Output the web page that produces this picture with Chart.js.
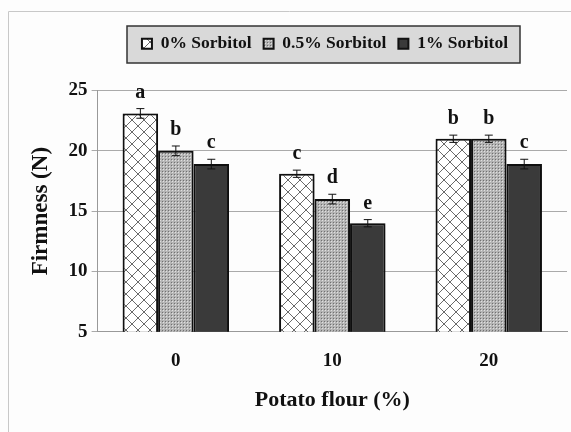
<!DOCTYPE html>
<html>
<head>
<meta charset="utf-8">
<script src="https://cdn.jsdelivr.net/npm/chart.js@4"></script>
<style>
  html, body { margin: 0; padding: 0; background: #fdfdfd; }
  #wrap { width: 571px; height: 432px; }
</style>
</head>
<body>
<div id="wrap"><canvas id="grafico" width="571" height="432"></canvas></div>
<script>
const categorias = ['0', '10', '20'];
const series = ['0% Sorbitol', '0.5% Sorbitol', '1% Sorbitol'];
const valores0 = [23.1, 18.1, 21.0];
const valores05 = [20.0, 16.0, 21.0];
const valores1 = [18.9, 14.0, 18.9];
const erros0 = [0.4, 0.3, 0.3];
const erros05 = [0.4, 0.4, 0.3];
const erros1 = [0.4, 0.3, 0.4];
const letras0 = ['a', 'c', 'b'];
const letras05 = ['b', 'd', 'b'];
const letras1 = ['c', 'e', 'c'];

const fonte = '"Liberation Serif", "Times New Roman", serif';

// padroes de preenchimento
function padraoTrelica() {
    const c = document.createElement('canvas');
    c.width = 12; c.height = 12;
    const g = c.getContext('2d');
    g.fillStyle = '#ffffff';
    g.fillRect(0, 0, 12, 12);
    g.strokeStyle = '#6a6a6a';
    g.lineWidth = 1;
    g.beginPath();
    g.moveTo(0, 0); g.lineTo(12, 12);
    g.moveTo(12, 0); g.lineTo(0, 12);
    g.stroke();
    return g.createPattern(c, 'repeat');
}
function padraoPontos() {
    const c = document.createElement('canvas');
    c.width = 3; c.height = 3;
    const g = c.getContext('2d');
    g.fillStyle = '#b4b4b4';
    g.fillRect(0, 0, 3, 3);
    g.fillStyle = '#707070';
    g.fillRect(0, 0, 1, 1);
    g.fillStyle = '#e0e0e0';
    g.fillRect(1, 1, 1, 1);
    return g.createPattern(c, 'repeat');
}

const erros = [erros0, erros05, erros1];
const letras = [letras0, letras05, letras1];

// espaco extra abaixo da legenda e deslocamento para a direita
const ajusteLegenda = {
    id: 'ajusteLegenda',
    beforeLayout(chart) {
        const lg = chart.legend;
        if (lg && !lg._ajustado) {
            const fitOrig = lg.fit.bind(lg);
            lg.fit = function () { fitOrig(); this.height += 28; };
            lg._ajustado = true;
        }
    },
    afterLayout(chart) {
        chart.legend.left += 30;
        chart.legend.right += 30;
    }
};

// moldura de fundo e caixa da legenda
const moldura = {
    id: 'moldura',
    beforeDraw(chart) {
        const ctx = chart.ctx;
        ctx.save();
        ctx.strokeStyle = '#c8c8c8';
        ctx.lineWidth = 1;
        ctx.beginPath();
        ctx.moveTo(8.5, 432); ctx.lineTo(8.5, 11.5); ctx.lineTo(571, 11.5);
        ctx.stroke();
        const left = 127, right = 520, top = 26, bottom = 63;
        ctx.fillStyle = '#d9d9d9';
        ctx.fillRect(left, top, right - left, bottom - top);
        ctx.strokeStyle = '#333333';
        ctx.lineWidth = 1.5;
        ctx.strokeRect(left, top, right - left, bottom - top);
        ctx.restore();
    }
};

// sombra nas barras
const sombra = {
    id: 'sombra',
    beforeDatasetsDraw(chart) {
        chart.ctx.save();
        chart.ctx.shadowColor = 'rgba(0,0,0,0.35)';
        chart.ctx.shadowBlur = 8;
    },
    afterDatasetsDraw(chart) {
        chart.ctx.restore();
    }
};

// barras de erro e letras
const barrasErro = {
    id: 'barrasErro',
    afterDatasetsDraw(chart) {
        const ctx = chart.ctx;
        const y = chart.scales.y;
        ctx.save();
        chart.data.datasets.forEach((ds, i) => {
            chart.getDatasetMeta(i).data.forEach((bar, j) => {
                const v = ds.data[j];
                const e = erros[i][j];
                const yTop = y.getPixelForValue(v + e);
                const yBot = y.getPixelForValue(v - e);
                ctx.strokeStyle = '#111';
                ctx.lineWidth = 1;
                ctx.beginPath();
                ctx.moveTo(bar.x, yTop); ctx.lineTo(bar.x, yBot);
                ctx.moveTo(bar.x - 4, yTop); ctx.lineTo(bar.x + 4, yTop);
                ctx.moveTo(bar.x - 4, yBot); ctx.lineTo(bar.x + 4, yBot);
                ctx.stroke();
                ctx.fillStyle = '#111';
                ctx.font = 'bold 20px ' + fonte;
                ctx.textAlign = 'center';
                ctx.textBaseline = 'bottom';
                ctx.fillText(letras[i][j], bar.x, yTop - 6);
            });
        });
        ctx.restore();
    }
};

const ctx = document.getElementById('grafico').getContext('2d');
const grafico = new Chart(ctx, {
    type: 'bar',
    data: {
        labels: categorias,
        datasets: [
            { label: series[0], data: valores0, backgroundColor: padraoTrelica(), borderColor: '#111', borderWidth: 2 },
            { label: series[1], data: valores05, backgroundColor: padraoPontos(), borderColor: '#111', borderWidth: 2 },
            { label: series[2], data: valores1, backgroundColor: '#3a3a3a', borderColor: '#111', borderWidth: 2 }
        ]
    },
    options: {
        responsive: false,
        animation: false,
        layout: { padding: { top: 23, right: 4, left: 23, bottom: 14 } },
        datasets: { bar: { barPercentage: 1, categoryPercentage: 0.68 } },
        plugins: {
            legend: {
                position: 'top',
                labels: {
                    font: { family: fonte, size: 17.5, weight: 'bold' },
                    color: '#111',
                    boxWidth: 10,
                    boxHeight: 10,
                    padding: 12
                }
            },
            tooltip: { enabled: false }
        },
        scales: {
            x: {
                grid: { display: false },
                border: { color: '#999' },
                ticks: { font: { family: fonte, size: 19, weight: 'bold' }, color: '#111', padding: 10 },
                title: {
                    display: true, text: 'Potato flour (%)',
                    font: { family: fonte, size: 22, weight: 'bold' }, color: '#111', padding: { top: 5 }
                }
            },
            y: {
                min: 5, max: 25,
                ticks: { stepSize: 5, font: { family: fonte, size: 19, weight: 'bold' }, color: '#111', padding: 4 },
                grid: { color: '#aaaaaa', tickLength: 6 },
                border: { color: '#999' },
                title: {
                    display: true, text: 'Firmness (N)',
                    font: { family: fonte, size: 23, weight: 'bold' }, color: '#111', padding: { bottom: 10 }
                }
            }
        }
    },
    plugins: [ajusteLegenda, moldura, sombra, barrasErro]
});
</script>
</body>
</html>
